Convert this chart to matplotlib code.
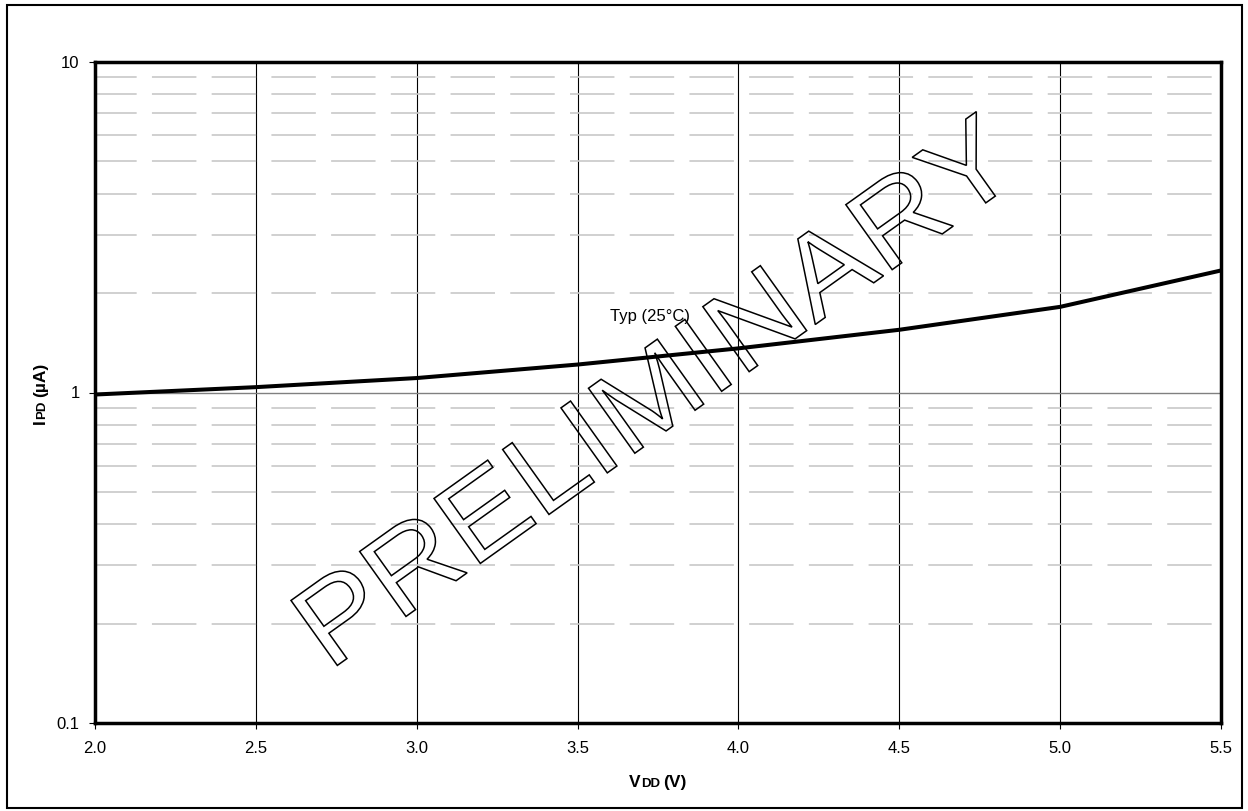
import matplotlib
matplotlib.use('Agg')
import matplotlib.pyplot as plt
from matplotlib.patches import Rectangle, PathPatch
from matplotlib.textpath import TextPath
from matplotlib.font_manager import FontProperties
from matplotlib.transforms import Affine2D

plt.rcParams['font.family'] = ['Liberation Sans', 'DejaVu Sans']
plt.rcParams['lines.scale_dashes'] = False

# data
vdd = [2.0, 2.5, 3.0, 3.5, 4.0, 4.5, 5.0, 5.5]
ipd_typ = [0.986, 1.038, 1.106, 1.215, 1.36, 1.548, 1.816, 2.34]

x_ticks = [2.0, 2.5, 3.0, 3.5, 4.0, 4.5, 5.0, 5.5]
x_tick_labels = ['2.0', '2.5', '3.0', '3.5', '4.0', '4.5', '5.0', '5.5']
y_ticks = [0.1, 1, 10]
y_tick_labels = ['0.1', '1', '10']
y_minor = [0.2, 0.3, 0.4, 0.5, 0.6, 0.7, 0.8, 0.9, 2, 3, 4, 5, 6, 7, 8, 9]

W, H = 1248, 811
fig = plt.figure(figsize=(W / 100, H / 100), dpi=100)
ax = fig.add_axes([95 / W, 88 / H, 1126 / W, 661 / H])

ax.plot(vdd, ipd_typ, color='black', lw=2.9, zorder=5)
ax.set_yscale('log')
ax.set_xlim(2.0, 5.5)
ax.set_ylim(0.1, 10)

ax.set_xticks(x_ticks)
ax.set_xticklabels(x_tick_labels)
ax.set_yticks(y_ticks)
ax.set_yticklabels(y_tick_labels)
ax.set_yticks(y_minor, minor=True)
ax.set_yticklabels([], minor=True)
ax.set_xticks([], minor=True)

ax.tick_params(axis='both', which='major', direction='out', length=4, width=0.8,
               labelsize=12, pad=7)
ax.tick_params(axis='x', which='major', pad=9)
ax.tick_params(axis='y', which='minor', length=0)

# grid lines
ax.xaxis.grid(True, which='major', color='black', lw=0.8)
ax.yaxis.grid(True, which='major', color='#808080', lw=1.0)
ax.yaxis.grid(True, which='minor', color='#c8c8c8', lw=1.2, ls=(2, (32, 11)))
ax.set_axisbelow(True)

for s in ax.spines.values():
    s.set_linewidth(2.5)
    s.set_zorder(6)

ax.text(3.6, 1.65, 'Typ (25°C)', fontsize=12, ha='left', va='baseline', zorder=7)

# watermark, outlined letters, a bit stretched along the baseline
tp = TextPath((0, 0), 'PRELIMINARY', size=116, prop=FontProperties(family='Liberation Sans'))
ext = tp.get_extents()
wm_tr = (Affine2D().translate(-(ext.x0 + ext.x1) / 2, 0).scale(1.09, 1.0)
         .rotate_deg(35.5).translate(680, H - 421))
fig.add_artist(PathPatch(tp, transform=wm_tr, facecolor='none', edgecolor='black',
                         lw=1.1, zorder=8))

# axis labels with small subscripts on the baseline
renderer = fig.canvas.get_renderer()


def label_parts(parts, cx, cy, rotation):
    texts = []
    total = 0
    for s, size, gap in parts:
        t = fig.text(0, 0, s, fontsize=size, fontweight='bold', rotation=rotation,
                     rotation_mode='anchor', ha='left', va='baseline')
        bb = t.get_window_extent(renderer)
        L = bb.width if rotation == 0 else bb.height
        texts.append((t, total + gap))
        total += L + gap
    for t, off in texts:
        p = off - total / 2
        if rotation == 0:
            t.set_position(((cx + p) / W, 1 - cy / H))
        else:
            t.set_position((cx / W, 1 - (cy - p) / H))


label_parts([('V', 12.5, 0), ('DD', 9.5, 0), ('(V)', 12.5, 4)], 658, 787, 0)
label_parts([('I', 12.5, 0), ('PD', 9.5, 0), ('(µA)', 12.5, 4)], 45, 393, 90)

fig.add_artist(Rectangle((7 / W, 3 / H), 1235 / W, 803 / H, transform=fig.transFigure,
                         fill=False, edgecolor='black', lw=1.5))

fig.savefig('out.png', dpi=100)
